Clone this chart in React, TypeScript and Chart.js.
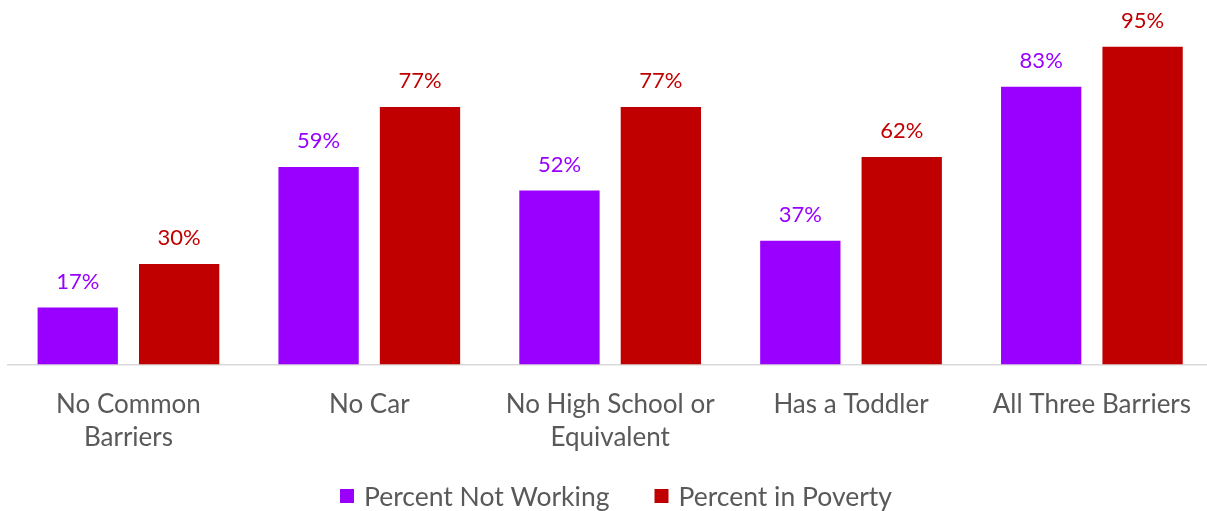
import React, { useEffect, useRef } from "react";
import { Chart, registerables } from "chart.js";

Chart.register(...registerables);

const categories: (string | string[])[] = [
  ["No Common", "Barriers"],
  "No Car",
  ["No High School or", "Equivalent"],
  "Has a Toddler",
  "All Three Barriers",
];
const notWorking = [17, 59, 52, 37, 83];
const inPoverty = [30, 77, 77, 62, 95];
const seriesNames = ["Percent Not Working", "Percent in Poverty"];
const seriesColors = ["#9900FF", "#C00000"];

const FONT = "Lato";
const TEXT_GREY = "#595959";

const valueLabels = {
  id: "valueLabels",
  afterDatasetsDraw(chart: any) {
    const ctx = chart.ctx;
    ctx.save();
    ctx.font = `22px ${FONT}`;
    ctx.textAlign = "center";
    ctx.textBaseline = "middle";
    chart.data.datasets.forEach((ds: any, i: number) => {
      const meta = chart.getDatasetMeta(i);
      ctx.fillStyle = ds.backgroundColor;
      meta.data.forEach((bar: any, j: number) => {
        ctx.fillText(`${ds.data[j]}%`, bar.x, bar.y - 26);
      });
    });
    ctx.restore();
  },
};

const bottomLegend = {
  id: "bottomLegend",
  afterDraw(chart: any) {
    const ctx = chart.ctx;
    ctx.save();
    ctx.font = `26.5px ${FONT}`;
    ctx.textBaseline = "middle";
    const box = 14;
    const textGap = 10;
    const itemGap = 45;
    const items = chart.data.datasets.map((ds: any) => ({
      label: ds.label,
      color: ds.backgroundColor,
      w: box + textGap + ctx.measureText(ds.label).width,
    }));
    const total = items.reduce((s: number, it: any) => s + it.w, 0) + itemGap * (items.length - 1);
    let x = 343 + (616 - (343 + total / 2));
    const y = 496;
    items.forEach((it: any) => {
      ctx.fillStyle = it.color;
      ctx.fillRect(x, y - box / 2, box, box);
      ctx.fillStyle = TEXT_GREY;
      ctx.fillText(it.label, x + box + textGap, y + 1);
      x += it.w + itemGap;
    });
    ctx.restore();
  },
};

export default function App() {
  const ref = useRef<HTMLCanvasElement>(null);
  useEffect(() => {
    if (!ref.current) return;
    const chart = new Chart(ref.current, {
      type: "bar",
      data: {
        labels: categories,
        datasets: [
          { label: seriesNames[0], data: notWorking, backgroundColor: seriesColors[0] },
          { label: seriesNames[1], data: inPoverty, backgroundColor: seriesColors[1] },
        ],
      },
      options: {
        animation: false,
        responsive: true,
        maintainAspectRatio: false,
        layout: { padding: { top: 30, left: 8, right: 0, bottom: 33 } },
        datasets: {
          bar: { categoryPercentage: 0.842, barPercentage: 0.792 },
        },
        plugins: {
          legend: { display: false },
          tooltip: { enabled: false },
        },
        scales: {
          x: {
            grid: { display: false, drawTicks: false },
            border: { display: true, color: "#D9D9D9", width: 1.5 },
            ticks: {
              color: TEXT_GREY,
              font: { family: FONT, size: 26, lineHeight: 1.3 },
              padding: 23,
              maxRotation: 0,
              autoSkip: false,
            },
          },
          y: {
            display: false,
            min: 0,
            max: 100,
          },
        },
      },
      plugins: [valueLabels, bottomLegend],
    });
    return () => chart.destroy();
  }, []);
  return (
    <div style={{ position: "absolute", left: 0, top: 0, width: 1207, height: 511, overflow: "hidden" }}>
      <div style={{ position: "absolute", left: 0, top: 0, width: 1214, height: 511 }}>
        <canvas ref={ref} />
      </div>
    </div>
  );
}
